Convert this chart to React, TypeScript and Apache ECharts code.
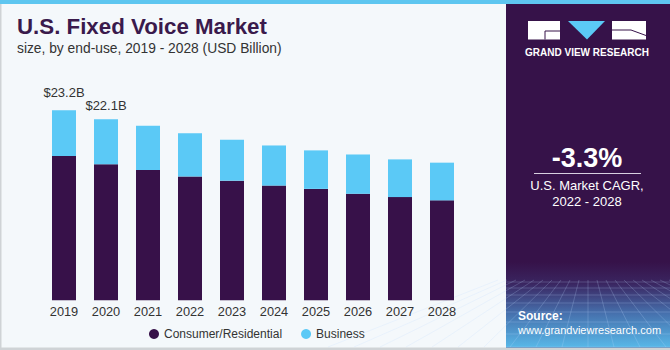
import React, { useEffect, useRef } from "react";
import * as echarts from "echarts";

const years = ["2019", "2020", "2021", "2022", "2023", "2024", "2025", "2026", "2027", "2028"];
const consumer = [17.6, 16.6, 15.9, 15.1, 14.6, 14.0, 13.6, 13.0, 12.6, 12.2];
const business = [5.6, 5.5, 5.4, 5.3, 5.0, 4.9, 4.7, 4.8, 4.6, 4.6];
const totalLabels = ["$23.2B", "$22.1B"];
const labelDistances = [11, 7];

const DARK = "#371149";
const BLUE = "#5bc9f6";
const FONT = "'Liberation Sans', Arial, sans-serif";

export default function App() {
  const ref = useRef<HTMLDivElement>(null);

  useEffect(() => {
    if (!ref.current) return;
    const chart = echarts.init(ref.current, null, { renderer: "svg" });

    const businessData = business.map((v, i) =>
      i < totalLabels.length
        ? {
            value: v,
            label: {
              show: true,
              position: "top",
              distance: labelDistances[i],
              formatter: totalLabels[i],
              color: "#333",
              fontSize: 13,
              fontFamily: FONT,
            },
          }
        : v
    );

    // perspective mesh lines in the footer of the side panel
    const meshLines: any[] = [];
    const hY = [282, 288, 295, 303, 312, 322, 334, 347];
    hY.forEach((y) =>
      meshLines.push({
        type: "line",
        shape: { x1: 506, y1: y, x2: 670, y2: y },
        style: { stroke: "rgba(190,220,255,0.28)", lineWidth: 0.8 },
        silent: true,
      })
    );
    for (let k = -10; k <= 10; k++) {
      const topX = 588 + k * 9;
      const botX = 588 + k * 26;
      meshLines.push({
        type: "line",
        shape: { x1: topX, y1: 280, x2: botX, y2: 347 },
        style: { stroke: "rgba(190,220,255,0.28)", lineWidth: 0.8 },
        silent: true,
      });
    }

    const option: any = {
      animation: false,
      backgroundColor: "#f4f8fb",
      grid: { left: 43, right: 207, top: 95.5, bottom: 49.7 },
      xAxis: {
        type: "category",
        data: years,
        axisLine: { show: false },
        axisTick: { show: false },
        axisLabel: { color: "#333", fontSize: 12.8, fontFamily: FONT, margin: 5 },
      },
      yAxis: {
        type: "value",
        min: 0,
        max: 25,
        show: false,
        splitLine: { show: false },
      },
      legend: {
        left: 144,
        top: 323,
        icon: "circle",
        itemWidth: 10,
        itemHeight: 10,
        itemGap: 19,
        textStyle: { color: "#333", fontSize: 12, fontFamily: FONT },
        data: ["Consumer/Residential", "Business"],
      },
      series: [
        {
          name: "Consumer/Residential",
          type: "bar",
          stack: "total",
          barWidth: 24,
          data: consumer,
          itemStyle: { color: DARK },
        },
        {
          name: "Business",
          type: "bar",
          stack: "total",
          barWidth: 24,
          data: businessData,
          itemStyle: { color: BLUE },
        },
      ],
      graphic: [
        // top stripe
        { type: "rect", shape: { x: 0, y: 0, width: 670, height: 4 }, style: { fill: "#5ec6f0" }, silent: true },
        // border lines
        { type: "rect", shape: { x: 0, y: 4, width: 1.5, height: 346 }, style: { fill: "#cfd3d6" }, silent: true },
        { type: "rect", shape: { x: 0, y: 347.5, width: 670, height: 2.5 }, style: { fill: "#cfd3d6" }, silent: true },
        // title
        {
          type: "text",
          left: 17,
          top: 15,
          style: {
            text: "U.S. Fixed Voice Market",
            fill: "#3a1a4c",
            font: "900 22.3px 'Liberation Sans', Arial, sans-serif",
          },
        },
        {
          type: "text",
          left: 17,
          top: 41,
          style: {
            text: "size, by end-use, 2019 - 2028 (USD Billion)",
            fill: "#333",
            font: "13.8px 'Liberation Sans', Arial, sans-serif",
          },
        },
        // side panel
        { type: "rect", shape: { x: 506, y: 4, width: 164, height: 343.5 }, style: { fill: "#361249" }, silent: true },
        {
          type: "rect",
          shape: { x: 506, y: 262, width: 164, height: 85.5 },
          style: {
            fill: new echarts.graphic.LinearGradient(0, 0, 0, 1, [
              { offset: 0, color: "#361249" },
              { offset: 0.25, color: "#3a2560" },
              { offset: 0.6, color: "#4670ad" },
              { offset: 1, color: "#58b8e8" },
            ]),
          },
          silent: true,
        },
        ...meshLines,
        // logo
        { type: "rect", shape: { x: 528, y: 21, width: 32, height: 18.5 }, style: { fill: "#ffffff" }, silent: true },
        {
          type: "polyline",
          shape: { points: [[560, 31], [545, 31], [545, 39.5]] },
          style: { stroke: "#361249", lineWidth: 1, fill: null },
          silent: true,
        },
        {
          type: "polygon",
          shape: { points: [[568, 21], [605, 21], [587, 39.5]] },
          style: { fill: "#5bc9f6" },
          silent: true,
        },
        { type: "rect", shape: { x: 612, y: 21, width: 34, height: 18.5 }, style: { fill: "#ffffff" }, silent: true },
        {
          type: "polyline",
          shape: { points: [[612, 30], [631, 30], [646, 35.5]] },
          style: { stroke: "#361249", lineWidth: 1, fill: null },
          silent: true,
        },
        {
          type: "text",
          x: 587,
          y: 52,
          style: {
            text: "GRAND VIEW RESEARCH",
            fill: "#ffffff",
            font: "bold 10px 'Liberation Sans', Arial, sans-serif",
            align: "center",
            verticalAlign: "middle",
          },
        },
        // CAGR
        {
          type: "text",
          x: 587,
          y: 158,
          style: {
            text: "-3.3%",
            fill: "#ffffff",
            font: "bold 27px 'Liberation Sans', Arial, sans-serif",
            align: "center",
            verticalAlign: "middle",
          },
        },
        {
          type: "line",
          shape: { x1: 534, y1: 173.5, x2: 641, y2: 173.5 },
          style: { stroke: "#d8d0e0", lineWidth: 1 },
          silent: true,
        },
        {
          type: "text",
          x: 587,
          y: 185.5,
          style: {
            text: "U.S. Market CAGR,",
            fill: "#ffffff",
            font: "13px 'Liberation Sans', Arial, sans-serif",
            align: "center",
            verticalAlign: "middle",
          },
        },
        {
          type: "text",
          x: 587,
          y: 201,
          style: {
            text: "2022 - 2028",
            fill: "#ffffff",
            font: "13px 'Liberation Sans', Arial, sans-serif",
            align: "center",
            verticalAlign: "middle",
          },
        },
        // source
        {
          type: "text",
          x: 518,
          y: 316,
          style: {
            text: "Source:",
            fill: "#ffffff",
            font: "bold 12px 'Liberation Sans', Arial, sans-serif",
            verticalAlign: "middle",
          },
        },
        {
          type: "text",
          x: 518,
          y: 330,
          style: {
            text: "www.grandviewresearch.com",
            fill: "#ffffff",
            font: "11px 'Liberation Sans', Arial, sans-serif",
            verticalAlign: "middle",
          },
        },
      ],
    };

    chart.setOption(option);
    return () => chart.dispose();
  }, []);

  return (
    <div
      ref={ref}
      style={{ position: "fixed", left: 0, top: 0, width: 670, height: 350 }}
    />
  );
}
